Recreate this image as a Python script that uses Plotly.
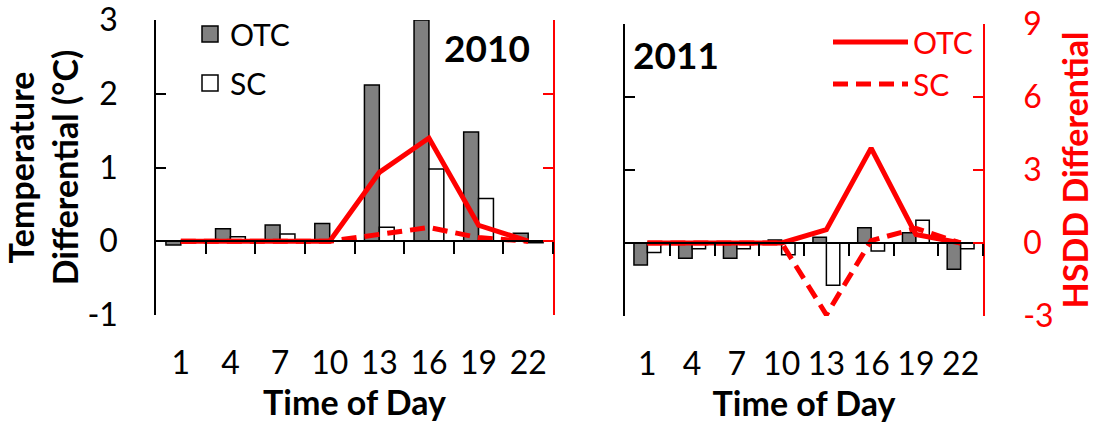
import plotly.graph_objects as go

# ---- data ----
hours = ["1", "4", "7", "10", "13", "16", "19", "22"]
otc_temp_2010 = [-0.05, 0.17, 0.22, 0.24, 2.12, 3.0, 1.48, 0.11]
sc_temp_2010 = [-0.02, 0.06, 0.10, 0.0, 0.19, 0.98, 0.58, -0.02]
otc_hsdd_2010 = [0, 0, 0, 0, 2.8, 4.2, 0.65, 0]
sc_hsdd_2010 = [0, 0, 0, 0, 0.28, 0.56, 0.15, 0]

otc_temp_2011 = [-0.30, -0.21, -0.21, 0.04, 0.08, 0.21, 0.14, -0.36]
sc_temp_2011 = [-0.13, -0.08, -0.08, -0.16, -0.58, -0.11, 0.31, -0.08]
otc_hsdd_2011 = [0, 0, 0, 0, 0.55, 3.9, 0.35, 0]
sc_hsdd_2011 = [0, 0, 0, 0, -2.95, 0.1, 0.6, 0]

temp_ticks = [-1, 0, 1, 2, 3]
temp_labels = ["-1", "0", "1", "2", "3"]
hsdd_ticks = [-3, 0, 3, 6, 9]
hsdd_labels = ["-3", "0", "3", "6", "9"]

W, H = 1099, 434
FONT = "Lato"
TICK_FS = 32
TITLE_FS = 34
LEG_FS = 30
RED = "#FF0000"
GRAY = "#808080"

idx = list(range(len(hours)))
bounds = [i + 0.5 for i in idx]
xr = [-0.5, len(hours) - 0.5]

# panel geometry (pixels)
L_x = (156 / W, 553 / W)
L_y = (1 - 315 / H, 1 - 20 / H)
R_x = (625 / W, 983 / W)
R_y = (1 - 316 / H, 1 - 24 / H)


def zero_pos(dom, rng):
    return dom[0] + (0 - rng[0]) / (rng[1] - rng[0]) * (dom[1] - dom[0])


fig = go.Figure()

bar_line = dict(color="black", width=1.5)

# 2010 bars
fig.add_trace(go.Bar(x=idx, y=otc_temp_2010, name="OTC", marker=dict(color=GRAY, line=bar_line),
                     xaxis="x", yaxis="y", showlegend=False))
fig.add_trace(go.Bar(x=idx, y=sc_temp_2010, name="SC", marker=dict(color="white", line=bar_line),
                     xaxis="x", yaxis="y", showlegend=False))
# 2011 bars
fig.add_trace(go.Bar(x=idx, y=otc_temp_2011, name="OTC", marker=dict(color=GRAY, line=bar_line),
                     xaxis="x2", yaxis="y3", showlegend=False))
fig.add_trace(go.Bar(x=idx, y=sc_temp_2011, name="SC", marker=dict(color="white", line=bar_line),
                     xaxis="x2", yaxis="y3", showlegend=False))

# legend entries for the bar series (square swatches)
fig.add_trace(go.Scatter(x=[None], y=[None], mode="markers", name="OTC", legendgroup="b1",
                         marker=dict(symbol="square", size=20, color=GRAY, line=dict(color="black", width=1.5)),
                         xaxis="x", yaxis="y", legend="legend", showlegend=True))
fig.add_trace(go.Scatter(x=[None], y=[None], mode="markers", name="SC", legendgroup="b2",
                         marker=dict(symbol="square", size=20, color="white", line=dict(color="black", width=1.5)),
                         xaxis="x", yaxis="y", legend="legend", showlegend=True))

# HSDD lines
fig.add_trace(go.Scatter(x=idx, y=otc_hsdd_2010, mode="lines", line=dict(color=RED, width=5),
                         xaxis="x3", yaxis="y2", showlegend=False, name="OTC"))
fig.add_trace(go.Scatter(x=idx, y=sc_hsdd_2010, mode="lines", line=dict(color=RED, width=5, dash="15px,8px"),
                         xaxis="x3", yaxis="y2", showlegend=False, name="SC"))
fig.add_trace(go.Scatter(x=idx, y=otc_hsdd_2011, mode="lines", line=dict(color=RED, width=5),
                         xaxis="x4", yaxis="y4", legend="legend2", showlegend=True, name="OTC"))
fig.add_trace(go.Scatter(x=idx, y=sc_hsdd_2011, mode="lines", line=dict(color=RED, width=5, dash="15px,8px"),
                         xaxis="x4", yaxis="y4", legend="legend2", showlegend=True, name="SC"))

label_axis = dict(range=xr, tickmode="array", tickvals=idx, ticktext=hours, showline=False,
                  ticks="", showgrid=False, zeroline=False, ticklabelstandoff=26, automargin=False,
                  ticklabeloverflow="allow",
                  tickfont=dict(size=TICK_FS, color="black"),
                  title=dict(text="<b>Time of Day</b>", font=dict(size=TITLE_FS, color="black"), standoff=8))
zero_axis = dict(range=xr, tickmode="array", tickvals=bounds, showticklabels=False, ticks="outside",
                 ticklen=12, tickwidth=1.5, tickcolor="black", showline=True, linecolor="black",
                 linewidth=1.5, showgrid=False, zeroline=False, anchor="free", automargin=False)

fig.update_layout(
    template="none",
    width=W, height=H, margin=dict(l=0, r=0, t=0, b=0, autoexpand=False),
    paper_bgcolor="white", plot_bgcolor="rgba(0,0,0,0)",
    font=dict(family=FONT, size=TICK_FS, color="black"),
    barmode="group", bargap=0.4, bargroupgap=0,
    xaxis=dict(domain=L_x, anchor="y", **label_axis),
    xaxis2=dict(domain=R_x, anchor="y3", **label_axis),
    xaxis3=dict(overlaying="x", position=zero_pos(L_y, [-1, 3]), **zero_axis),
    xaxis4=dict(overlaying="x2", position=zero_pos(R_y, [-1, 3]), **zero_axis),
    yaxis=dict(domain=L_y, anchor="x", range=[-1, 3], tickmode="array", tickvals=temp_ticks,
               ticktext=temp_labels, automargin=False, ticklabeloverflow="allow",
               ticks="inside", ticklen=10, tickwidth=1.5, tickcolor="black", showline=True,
               linecolor="black", linewidth=1.5, showgrid=False, zeroline=False,
               ticklabelstandoff=30, tickfont=dict(size=TICK_FS),
               title=dict(text="<b>Temperature<br>Differential (°C)</b>", font=dict(size=TITLE_FS), standoff=10)),
    yaxis2=dict(overlaying="y", anchor="x", side="right", range=[-3, 9], tickmode="array",
                tickvals=hsdd_ticks, ticks="inside", ticklen=10, tickwidth=1.5, tickcolor=RED,
                showline=True, linecolor=RED, linewidth=1.5, showgrid=False, zeroline=False,
                showticklabels=False, automargin=False),
    yaxis3=dict(domain=R_y, anchor="x2", range=[-1, 3], tickmode="array", tickvals=temp_ticks,
                ticks="inside", ticklen=10, tickwidth=1.5, tickcolor="black", showline=True,
                linecolor="black", linewidth=1.5, showgrid=False, zeroline=False,
                showticklabels=False, automargin=False),
    yaxis4=dict(overlaying="y3", anchor="x2", side="right", range=[-3, 9], tickmode="array",
                tickvals=hsdd_ticks, ticktext=hsdd_labels, ticks="inside", ticklen=10, tickwidth=1.5,
                tickcolor=RED, showline=True, linecolor=RED, linewidth=1.5, showgrid=False,
                zeroline=False, automargin=False, ticklabeloverflow="allow",
                ticklabelstandoff=32, tickfont=dict(size=TICK_FS, color=RED),
                title=dict(text="<b>HSDD Differential</b>", font=dict(size=TITLE_FS, color=RED), standoff=10)),
    legend=dict(x=190 / W, y=1 - 8 / H, xanchor="left", yanchor="top", bgcolor="rgba(0,0,0,0)",
                font=dict(size=LEG_FS, color="black"), tracegroupgap=7, itemwidth=30),
    legend2=dict(x=978 / W, y=1 - 16 / H, xanchor="right", yanchor="top", bgcolor="rgba(0,0,0,0)",
                 font=dict(size=LEG_FS, color=RED), itemwidth=75),
    annotations=[
        dict(text="<b>2010</b>", x=487 / W, y=1 - 48 / H, xref="paper", yref="paper",
             showarrow=False, font=dict(size=37, color="black"), xanchor="center", yanchor="middle"),
        dict(text="<b>2011</b>", x=676 / W, y=1 - 55 / H, xref="paper", yref="paper",
             showarrow=False, font=dict(size=37, color="black"), xanchor="center", yanchor="middle"),
    ],
)

fig.write_html("out.html")
